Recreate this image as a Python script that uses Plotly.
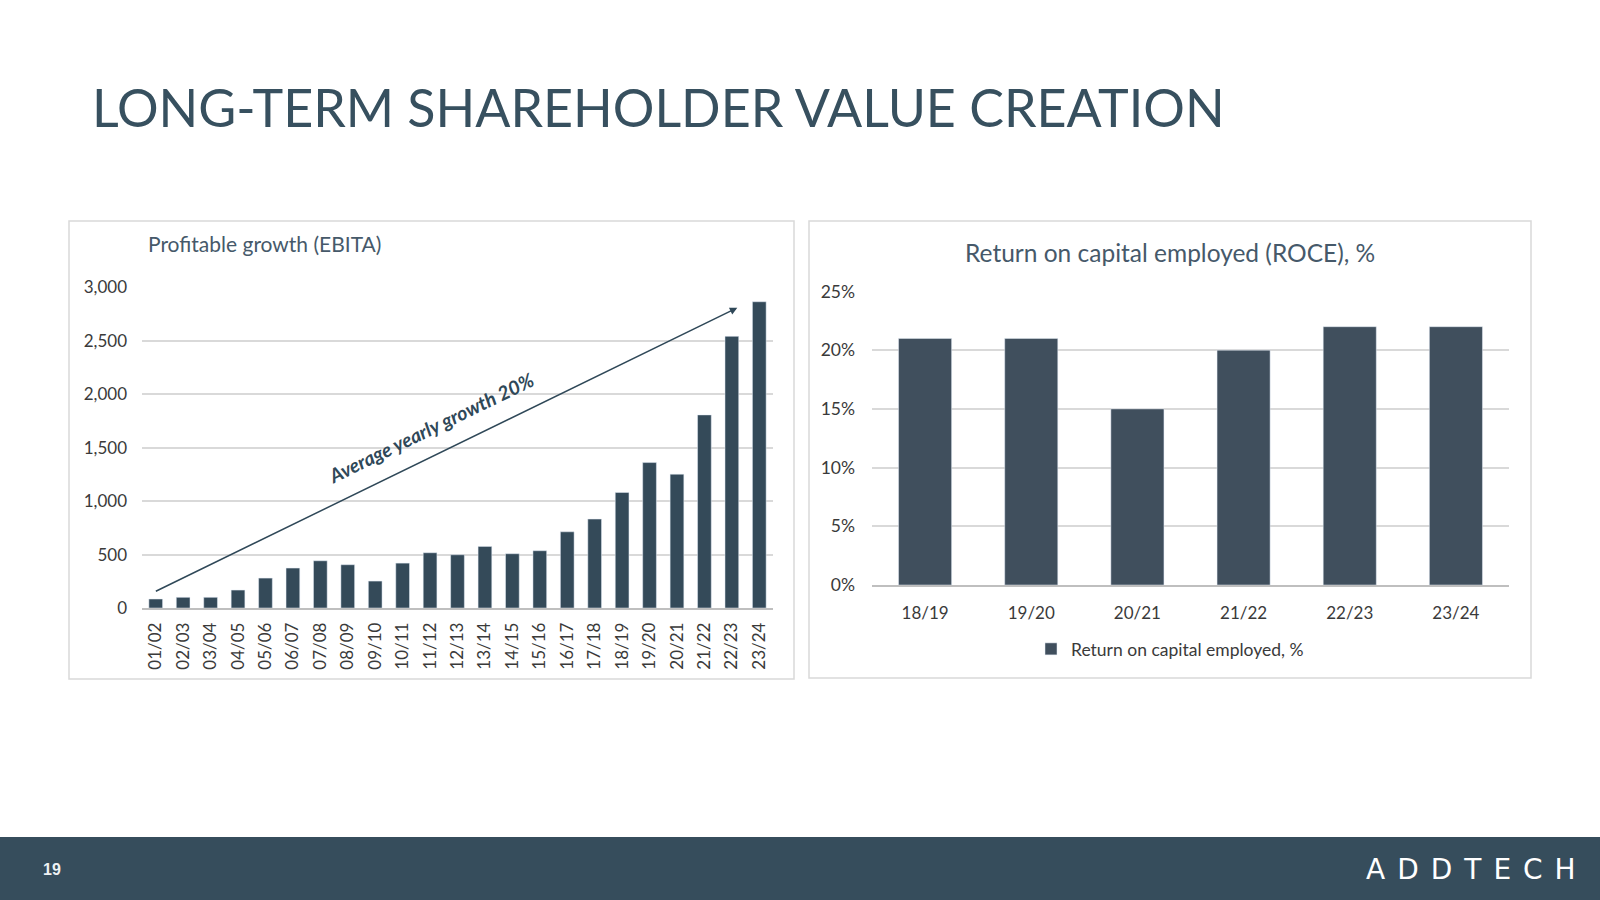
import plotly.graph_objects as go

# ---------------- data ----------------
ebita_years = ["01/02", "02/03", "03/04", "04/05", "05/06", "06/07", "07/08", "08/09",
               "09/10", "10/11", "11/12", "12/13", "13/14", "14/15", "15/16", "16/17",
               "17/18", "18/19", "19/20", "20/21", "21/22", "22/23", "23/24"]
ebita_values = [84, 100, 100, 168, 280, 374, 442, 405, 252, 420, 517, 498, 576, 508, 536,
                713, 832, 1081, 1361, 1252, 1807, 2542, 2866]
ebita_ticks = [0, 500, 1000, 1500, 2000, 2500, 3000]

roce_years = ["18/19", "19/20", "20/21", "21/22", "22/23", "23/24"]
roce_values = [21, 21, 15, 20, 22, 22]
roce_ticks = [0, 5, 10, 15, 20, 25]

W, H = 1600, 900
FONT = "Lato"
DARK = "#37505f"
BAR_L = "#344a59"
BAR_R = "#404f5d"
GRID = "#d9d9d9"
TICK = "#3a3a3a"
SUB = "#46596a"


def px(x):
    return x / W


def py(y):
    return 1 - y / H


fig = go.Figure()

fig.add_trace(go.Bar(x=ebita_years, y=ebita_values, marker_color=BAR_L,
                     xaxis="x", yaxis="y", showlegend=False, name="EBITA"))
fig.add_trace(go.Bar(x=roce_years, y=roce_values, marker_color=BAR_R,
                     xaxis="x2", yaxis="y2", showlegend=True,
                     name="Return on capital employed, %"))

fig.update_layout(
    width=W, height=H,
    margin=dict(l=0, r=0, t=0, b=0, pad=0, autoexpand=False),
    paper_bgcolor="white", plot_bgcolor="white",
    font=dict(family=FONT, color=TICK),
    bargap=0.5,
    xaxis=dict(domain=[px(142), px(773)], anchor="y", type="category",
               tickangle=-90, tickfont=dict(size=17, color=TICK),
               showgrid=False, showline=True, linecolor="#bfbfbf", linewidth=1.5,
               ticks="", ticklabelstandoff=6, automargin=False),
    yaxis=dict(domain=[py(608), py(287)], anchor="x", range=[0, 3004],
               tickvals=ebita_ticks, ticktext=[f"{v:,}" for v in ebita_ticks],
               tickfont=dict(size=17, color=TICK), showgrid=True,
               gridcolor=GRID, gridwidth=1.5, zeroline=False, showline=False,
               ticks="", ticklabelstandoff=14, automargin=False),
    xaxis2=dict(domain=[px(872), px(1509)], anchor="y2", type="category",
                tickfont=dict(size=17, color=TICK), showgrid=False,
                showline=True, linecolor="#bfbfbf", linewidth=1.5, ticks="",
                ticklabelstandoff=12, automargin=False),
    yaxis2=dict(domain=[py(585), py(291)], anchor="x2", range=[0, 25.04],
                tickvals=roce_ticks, ticktext=[f"{v}%" for v in roce_ticks],
                tickfont=dict(size=17.5, color=TICK), showgrid=True,
                gridcolor=GRID, gridwidth=1.5, zeroline=False, showline=False,
                ticks="", ticklabelstandoff=16, automargin=False),
    legend=dict(orientation="h", x=px(1170), xanchor="center", y=py(649),
                yanchor="middle", font=dict(size=17.5, color=TICK),
                bgcolor="rgba(0,0,0,0)", itemwidth=30),
)

shapes = [
    # panel borders
    dict(type="rect", xref="paper", yref="paper", x0=px(69), x1=px(794),
         y0=py(679), y1=py(221), line=dict(color=GRID, width=1.5)),
    dict(type="rect", xref="paper", yref="paper", x0=px(809), x1=px(1531),
         y0=py(678), y1=py(221), line=dict(color=GRID, width=1.5)),
    # footer band
    dict(type="rect", xref="paper", yref="paper", x0=0, x1=1, y0=0, y1=py(837),
         fillcolor="#364d5c", line=dict(width=0), layer="below"),
]
fig.update_layout(shapes=shapes)

annotations = [
    dict(text="LONG-TERM SHAREHOLDER VALUE CREATION", xref="paper", yref="paper",
         x=px(90), y=py(107), xanchor="left", yanchor="middle", showarrow=False,
         font=dict(size=52, color=DARK, family=FONT)),
    dict(text="Profitable growth (EBITA)", xref="paper", yref="paper",
         x=px(146), y=py(244), xanchor="left", yanchor="middle", showarrow=False,
         font=dict(size=21, color=SUB, family=FONT)),
    dict(text="Return on capital employed (ROCE), %", xref="paper", yref="paper",
         x=px(1170), y=py(252), xanchor="center", yanchor="middle", showarrow=False,
         font=dict(size=24.5, color=SUB, family=FONT)),
    # growth arrow
    dict(x=21.2, y=2810, ax=-0.05, ay=150, xref="x", yref="y", axref="x", ayref="y",
         showarrow=True, arrowhead=2, arrowsize=1, arrowwidth=1.5,
         arrowcolor="#2f4858", text=""),
    dict(text="<b><i>Average yearly growth 20%</i></b>", x=10.04, y=1690,
         xref="x", yref="y", showarrow=False, textangle=-26,
         font=dict(size=19.5, color="#2f4858", family=FONT)),
    # footer
    dict(text="<b>19</b>", xref="paper", yref="paper", x=px(52), y=py(869),
         xanchor="center", yanchor="middle", showarrow=False,
         font=dict(size=16, color="#eef1f3", family="Liberation Sans")),
    dict(text='<span style="letter-spacing:12px">ADDTECH</span>', xref="paper",
         yref="paper", x=px(1590), y=py(869),
         xanchor="right", yanchor="middle", showarrow=False,
         font=dict(size=28, color="white", family="DejaVu Sans")),
]
fig.update_layout(annotations=annotations)

fig.write_html("out.html", config={"displayModeBar": False},
               post_script="document.body.style.margin='0';"
                           "document.body.style.overflow='hidden';")
